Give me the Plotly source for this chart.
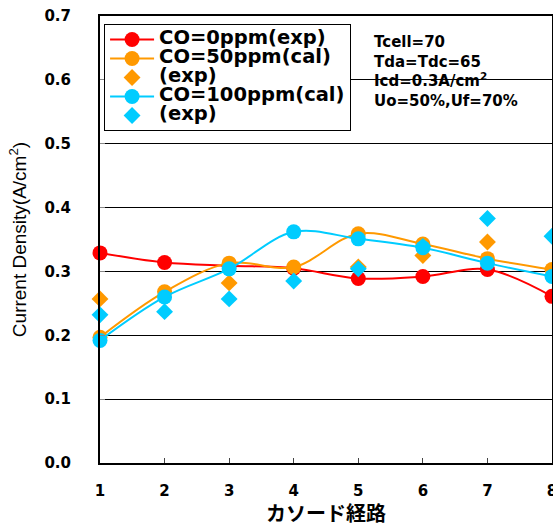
import plotly.graph_objects as go

x_path = [1, 2, 3, 4, 5, 6, 7, 8]
co0_exp = [0.329, 0.314, 0.309, 0.305, 0.289, 0.292, 0.303, 0.261]
co50_cal = [0.197, 0.268, 0.313, 0.307, 0.359, 0.343, 0.320, 0.303]
co50_exp = [0.257, None, 0.282, None, 0.307, 0.325, 0.346, None]
co100_cal = [0.192, 0.260, 0.304, 0.362, 0.351, 0.337, 0.313, 0.292]
co100_exp = [0.232, 0.237, 0.257, 0.285, 0.304, 0.339, 0.383, 0.355]

names = ["CO=0ppm(exp)", "CO=50ppm(cal)", "(exp)", "CO=100ppm(cal)", "(exp)"]
RED, ORANGE, CYAN = "#FF0000", "#FF9900", "#00CCFF"

def lg(t):
    return '<span style="font-size:19.5px">' + t + '</span>'

fig = go.Figure()
fig.add_trace(go.Scatter(x=x_path, y=co0_exp, name=lg(names[0]), mode="lines+markers",
                         line=dict(color=RED, width=2, shape="spline", smoothing=1),
                         marker=dict(symbol="circle", size=15, color=RED), cliponaxis=False))
fig.add_trace(go.Scatter(x=x_path, y=co50_cal, name=lg(names[1]), mode="lines+markers",
                         line=dict(color=ORANGE, width=2, shape="spline", smoothing=1),
                         marker=dict(symbol="circle", size=15, color=ORANGE), cliponaxis=False))
fig.add_trace(go.Scatter(x=x_path, y=co50_exp, name=lg(names[2]), mode="markers",
                         marker=dict(symbol="diamond", size=13, color=ORANGE), cliponaxis=False))
fig.add_trace(go.Scatter(x=x_path, y=co100_cal, name=lg(names[3]), mode="lines+markers",
                         line=dict(color=CYAN, width=2, shape="spline", smoothing=1),
                         marker=dict(symbol="circle", size=15, color=CYAN), cliponaxis=False))
fig.add_trace(go.Scatter(x=x_path, y=co100_exp, name=lg(names[4]), mode="markers",
                         marker=dict(symbol="diamond", size=13, color=CYAN), cliponaxis=False))

fig.add_annotation(xref="paper", yref="paper", x=0.602, y=0.966, xanchor="left", yanchor="top",
                   align="left", showarrow=False,
                   text="Tcell=70<br>Tda=Tdc=65<br>Icd=0.3A/cm<sup>2</sup><br>Uo=50%,Uf=70%",
                   font=dict(family="DejaVu Sans", size=15, color="black", weight="bold"))

fig.update_layout(
    width=553, height=527,
    margin=dict(l=100, r=1, t=16, b=64, autoexpand=False),
    paper_bgcolor="white", plot_bgcolor="white",
    showlegend=True,
    legend=dict(x=0.009, y=0.982, xanchor="left", yanchor="top",
                bgcolor="white", bordercolor="black", borderwidth=1,
                font=dict(family="DejaVu Sans", size=11, color="black", weight="bold"),
                tracegroupgap=0, itemsizing="trace", itemwidth=44),
    font=dict(family="DejaVu Sans", color="black"),
)
fig.update_xaxes(range=[1, 8], tickvals=x_path, ticktext=[str(v) for v in x_path],
                 showline=True, linecolor="black", linewidth=2, mirror=True,
                 ticks="inside", ticklen=5, tickcolor="#444", showgrid=False, zeroline=False,
                 ticklabelstandoff=13, ticklabeloverflow="allow",
                 tickfont=dict(family="DejaVu Sans", size=15, weight="bold", color="black"),
                 title=dict(text="カソード経路", standoff=8,
                            font=dict(family="Noto Sans CJK JP", size=20, weight="bold", color="black")))
fig.update_yaxes(range=[0, 0.7], dtick=0.1, tick0=0, tickformat=".1f",
                 showline=True, linecolor="black", linewidth=2, mirror=True,
                 ticks="inside", ticklen=5, tickcolor="#888",
                 showgrid=True, gridcolor="black", gridwidth=1, zeroline=False,
                 ticklabelstandoff=24,
                 tickfont=dict(family="DejaVu Sans", size=15, weight="bold", color="black"),
                 title=dict(text="Current Density(A/cm<sup>2</sup>)", standoff=13,
                            font=dict(family="Liberation Sans", size=19, color="black")))

fig.write_html("out.html")
